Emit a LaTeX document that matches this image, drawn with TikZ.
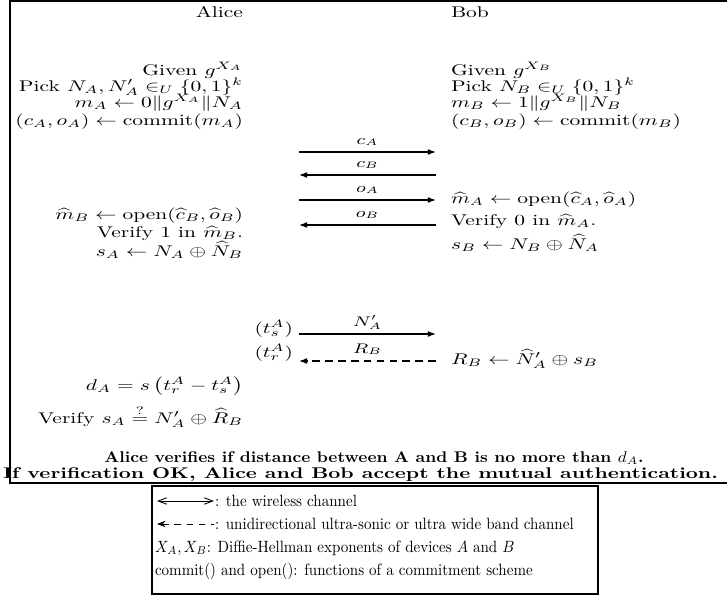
\documentclass[tikz,border=0pt]{standalone}
\usepackage{amsmath,amssymb}
\usetikzlibrary{arrows.meta}
\tikzset{
  % protocol text, squeezed vertically like the original scan
  txt/.style={inner sep=0pt, outer sep=0pt, font=\normalsize, yscale=0.72, transform shape},
  lcol/.style={txt, anchor=base east},
  rcol/.style={txt, anchor=base west},
  % label over a message arrow
  msglabel/.style={txt, font=\small, anchor=base, yshift=5pt},
  % wireless message
  msg/.style={-{Latex[length=3.8pt,width=2.8pt]}, line width=0.6pt},
  % ultra-sonic / UWB message
  umsg/.style={msg, dash pattern=on 3.6pt off 2.4pt},
  % frames
  frame/.style={line width=0.5pt},
  % legend text
  legtxt/.style={inner sep=0pt, outer sep=0pt, font=\normalsize, xscale=0.70, yscale=0.76, transform shape, anchor=base west},
}
\begin{document}
\begin{tikzpicture}[x=0.465pt, y=-0.465pt]
  \clip (0,0) rectangle (727,595);
  \draw[frame] (10,1) rectangle (745,483);

  % Alice
  \node[lcol] (alice) at (243,17) {Alice};
  \node[lcol] (givenA) at (243,75) {Given $g^{X_A}$};
  \node[lcol] (pickA) at (243,91) {Pick $N_A, N'_A \in_U \{0,1\}^k$};
  \node[lcol] (mA) at (243,107) {$m_A \leftarrow 0\|g^{X_A}\|N_A$};
  \node[lcol] (comA) at (243,125) {$(c_A,o_A) \leftarrow \mathrm{commit}(m_A)$};
  \node[lcol] (openB) at (243,219) {$\widehat{m}_B \leftarrow \mathrm{open}(\widehat{c}_B,\widehat{o}_B)$};
  \node[lcol] (verB) at (243,237) {Verify 1 in $\widehat{m}_B$.};
  \node[lcol] (sA) at (243,256) {$s_A \leftarrow N_A \oplus \widehat{N}_B$};
  \node[lcol] (ts) at (293,333) {$(t_s^A)$};
  \node[lcol] (tr) at (293,357) {$(t_r^A)$};
  \node[lcol] (dA) at (243,390) {$d_A = s\left(t_r^A - t_s^A\right)$};
  \node[lcol] (verS) at (243,423) {Verify $s_A \stackrel{?}{=} N'_A \oplus \widehat{R}_B$};

  % Bob
  \node[rcol] (bob) at (451,17) {Bob};
  \node[rcol] (givenB) at (451,75) {Given $g^{X_B}$};
  \node[rcol] (pickB) at (451,91) {Pick $N_B \in_U \{0,1\}^k$};
  \node[rcol] (mB) at (451,107) {$m_B \leftarrow 1\|g^{X_B}\|N_B$};
  \node[rcol] (comB) at (451,125) {$(c_B,o_B) \leftarrow \mathrm{commit}(m_B)$};
  \node[rcol] (openA) at (451,203) {$\widehat{m}_A \leftarrow \mathrm{open}(\widehat{c}_A,\widehat{o}_A)$};
  \node[rcol] (verA) at (451,225) {Verify 0 in $\widehat{m}_A$.};
  \node[rcol] (sB) at (451,249) {$s_B \leftarrow N_B \oplus \widehat{N}_A$};
  \node[rcol] (RB) at (451,364) {$R_B \leftarrow \widehat{N}'_A \oplus s_B$};

  % message lanes
  \foreach \n/\y in {1/152,2/175,3/200,4/225,5/334,6/361} {
    \coordinate (L\n) at (299,\y);
    \coordinate (R\n) at (436,\y);
  }
  \draw[msg] (L1) -- node[msglabel]{$c_A$} (R1);
  \draw[msg] (R2) -- node[msglabel]{$c_B$} (L2);
  \draw[msg] (L3) -- node[msglabel]{$o_A$} (R3);
  \draw[msg] (R4) -- node[msglabel]{$o_B$} (L4);
  \draw[msg] (L5) -- node[msglabel]{$N'_A$} (R5);
  \draw[umsg] (R6) -- node[msglabel]{$R_B$} (L6);

  % outcome
  \node[txt, font=\bfseries, xscale=0.8, anchor=base] (check) at (374,462) {Alice verifies if distance between A and B is no more than $d_A$.};
  \node[txt, font=\bfseries, xscale=0.972, anchor=base west] (accept) at (3,478) {If verification OK, Alice and Bob accept the mutual authentication.};

  % legend
  \draw[frame] (152,486) rectangle (598,594);
  \coordinate (wl) at (157,501);
  \coordinate (wr) at (214,501);
  \draw[{Straight Barb[length=4pt,width=3pt]}-{Straight Barb[length=4pt,width=3pt]}] (wl) -- (wr);
  \node[legtxt] (wireless) at (215,506) {: the wireless channel};
  \coordinate (ul) at (157,524);
  \coordinate (ur) at (214,524);
  \draw[{Stealth[length=4pt,width=3pt]}-, dash pattern=on 3pt off 2.6pt] (ul) -- (ur);
  \node[legtxt] (usonic) at (215,529) {: unidirectional ultra-sonic or ultra wide band channel};
  \node[legtxt] (dh) at (155,552) {$X_A, X_B$: Diffie-Hellman exponents of devices $A$ and $B$};
  \node[legtxt] (cmt) at (155,575) {commit() and open(): functions of a commitment scheme};
\end{tikzpicture}
\end{document}
